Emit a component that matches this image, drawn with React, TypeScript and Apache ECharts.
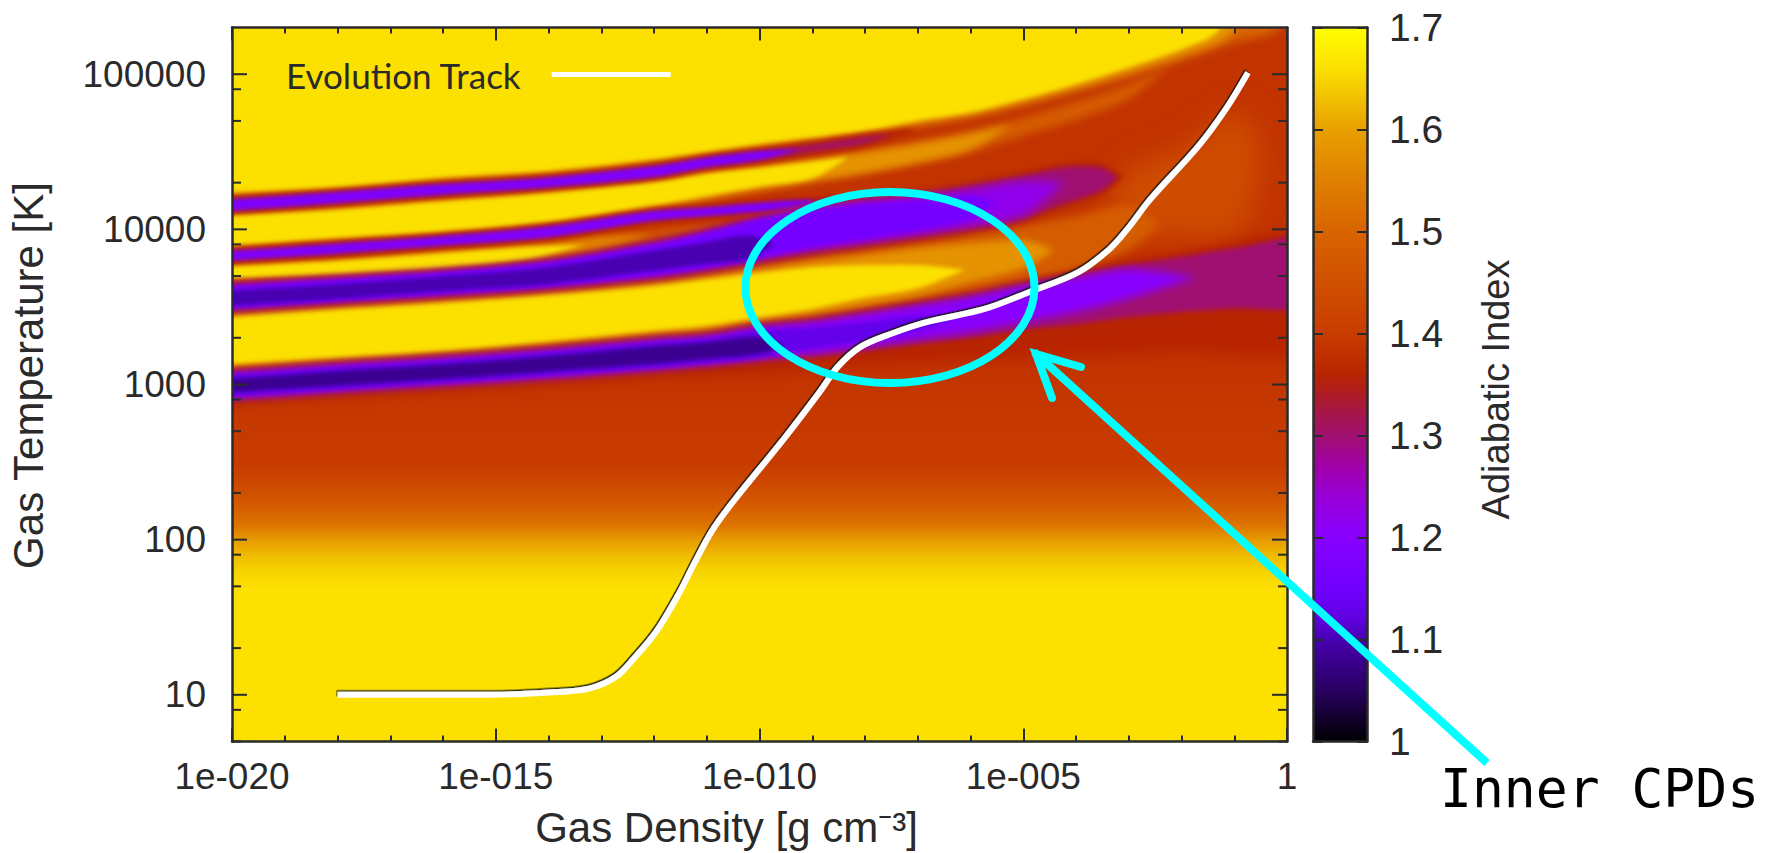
import React, { useEffect, useRef } from "react";
import * as echarts from "echarts";

// Axis values
const densityExponentTicks = [-20, -15, -10, -5, 0];
const temperatureMajorTicks = [10, 100, 1000, 10000, 100000];
const temperatureMinorTicks = [5, 8, 20, 50, 80, 200, 500, 800, 2000, 5000, 8000, 20000, 50000, 80000];

// Colour scale, adiabatic index -> colour
const gammaStops = [1.0, 1.05, 1.1, 1.12, 1.15, 1.2, 1.24, 1.27, 1.3, 1.33, 1.36, 1.4, 1.45, 1.5, 1.55, 1.6, 1.63, 1.66, 1.7];
const gammaColors = ["#000000", "#280060", "#4800b0", "#6000e0", "#7000ff", "#8800ff", "#9800d8", "#a000a8", "#a01070", "#a81838", "#b82400", "#c83c00", "#d05000", "#d86400", "#e08000", "#e8a000", "#f0c000", "#fbe000", "#ffff00"];

// Cold end of the map: [log10 T, index]
const coldProfileLogT = [5.31, 3.2, 2.48, 2.26, 2.09, 2.0, 1.9, 1.79, 1.68, 0.69];
const coldProfileGamma = [1.385, 1.385, 1.4, 1.46, 1.53, 1.59, 1.625, 1.65, 1.66, 1.66];

// Contours of the index: [log10 density, upper log10 T, lower log10 T]
const warmPatch144 = [[-3.4, 4.131, 4.131], [-3, 4.389, 3.981], [-2, 4.518, 3.96], [-1, 4.754, 3.96], [-0.7, 4.7, 4.1], [-0.5, 4.5, 4.4]];
const haloD136 = [[-20, 3.09, 2.886], [-16, 3.183, 2.961], [-12, 3.3, 3.047], [-10, 3.386, 3.069], [-8, 3.472, 3.122], [-6, 3.58, 3.155], [-4, 3.719, 3.176], [-2, 3.837, 3.208], [0.5, 3.949, 3.23]];
const topRegion150 = [[-20, 5.5, 4.206], [-18, 5.5, 4.243], [-16, 5.5, 4.303], [-14, 5.5, 4.346], [-12, 5.5, 4.421], [-10, 5.5, 4.518], [-9, 5.5, 4.56], [-8, 5.5, 4.603], [-7, 5.5, 4.663], [-6, 5.5, 4.721], [-5, 5.5, 4.797], [-4, 5.5, 4.887], [-3, 5.5, 4.979], [-2, 5.5, 5.086], [-1, 5.5, 5.204], [-0.2, 5.5, 5.28], [0.1, 5.5, 5.5]];
const topRegion158 = [[-20, 5.5, 4.222], [-18, 5.5, 4.257], [-16, 5.5, 4.319], [-14, 5.5, 4.362], [-12, 5.5, 4.437], [-10, 5.5, 4.534], [-9, 5.5, 4.577], [-8, 5.5, 4.62], [-7, 5.5, 4.682], [-6, 5.5, 4.738], [-5, 5.5, 4.82], [-4, 5.5, 4.91], [-3, 5.5, 5.01], [-2, 5.5, 5.12], [-1.1, 5.5, 5.25], [-0.7, 5.5, 5.5]];
const topRegion165 = [[-20, 5.5, 4.238], [-18, 5.5, 4.271], [-16, 5.5, 4.335], [-14, 5.5, 4.378], [-12, 5.5, 4.453], [-10, 5.5, 4.55], [-9, 5.5, 4.593], [-8, 5.5, 4.636], [-7, 5.5, 4.7], [-6, 5.5, 4.754], [-5, 5.5, 4.84], [-4, 5.5, 4.936], [-3, 5.5, 5.043], [-2, 5.5, 5.161], [-1.3, 5.5, 5.28], [-1.2, 5.5, 5.5]];
const streakAB148 = [[-20, 4.11, 3.878], [-18, 4.148, 3.921], [-16, 4.202, 3.964], [-14, 4.26, 4.024], [-12, 4.324, 4.12], [-11, 4.378, 4.185], [-10, 4.421, 4.243], [-9, 4.464, 4.303], [-8, 4.513, 4.357], [-7, 4.571, 4.421], [-6, 4.636, 4.496], [-5, 4.721, 4.603], [-4, 4.822, 4.706], [-3, 4.936, 4.84], [-2.2, 5.054, 5.054]];
const streakAB158 = [[-20, 4.095, 3.889], [-18, 4.135, 3.935], [-16, 4.189, 3.978], [-14, 4.243, 4.038], [-12, 4.314, 4.135], [-11, 4.367, 4.2], [-10, 4.406, 4.26], [-9, 4.449, 4.314], [-8, 4.496, 4.367], [-7, 4.55, 4.432], [-6, 4.614, 4.518], [-5.2, 4.678, 4.678]];
const streakAB165 = [[-20, 4.088, 3.895], [-18, 4.127, 3.942], [-16, 4.181, 3.985], [-14, 4.234, 4.045], [-12, 4.303, 4.153], [-11, 4.357, 4.217], [-10, 4.395, 4.277], [-9, 4.436, 4.329], [-8.3, 4.464, 4.464]];
const wedgeBC145 = [[-20, 3.777, 3.67], [-18, 3.816, 3.691], [-16, 3.865, 3.732], [-14, 3.921, 3.805], [-12, 4.003, 3.921], [-11, 4.035, 3.966], [-10.2, 4.028, 4.028]];
const wedgeBC155 = [[-20, 3.771, 3.676], [-18, 3.809, 3.698], [-16, 3.859, 3.738], [-14, 3.912, 3.814], [-13, 3.955, 3.874], [-12, 3.966, 3.966]];
const wedgeBC165 = [[-20, 3.762, 3.685], [-18, 3.798, 3.706], [-16, 3.848, 3.751], [-14.5, 3.884, 3.799], [-13.3, 3.9, 3.9]];
const bandCD148 = [[-20, 3.466, 3.101], [-18, 3.513, 3.144], [-16, 3.556, 3.187], [-14, 3.603, 3.247], [-12, 3.668, 3.311], [-11, 3.711, 3.337], [-10, 3.762, 3.391], [-9, 3.816, 3.434], [-8, 3.859, 3.487], [-7, 3.906, 3.547], [-6, 3.966, 3.605], [-5, 4.024, 3.67], [-4, 4.088, 3.745], [-3, 4.153, 3.863], [-2.4, 4.035, 4.035]];
const bandCD158 = [[-20, 3.453, 3.114], [-18, 3.5, 3.157], [-16, 3.543, 3.2], [-14, 3.59, 3.26], [-12, 3.653, 3.326], [-11, 3.696, 3.354], [-10, 3.745, 3.408], [-9, 3.794, 3.455], [-8, 3.837, 3.513], [-7, 3.88, 3.573], [-6, 3.91, 3.66], [-5, 3.93, 3.75], [-4.4, 3.87, 3.87]];
const bandCD165 = [[-20, 3.434, 3.133], [-18, 3.481, 3.176], [-16, 3.524, 3.219], [-14, 3.573, 3.279], [-12, 3.633, 3.348], [-11, 3.676, 3.38], [-10, 3.719, 3.434], [-9, 3.756, 3.487], [-8, 3.77, 3.56], [-7, 3.77, 3.62], [-6.1, 3.74, 3.74]];
const stripeA130 = [[-20, 4.202, 4.114], [-18, 4.249, 4.163], [-16, 4.299, 4.217], [-14, 4.342, 4.264], [-12, 4.415, 4.331], [-11, 4.47, 4.393], [-10, 4.513, 4.436], [-9, 4.556, 4.49], [-8, 4.608, 4.543], [-7.1, 4.636, 4.636]];
const stripeA118 = [[-20, 4.191, 4.123], [-18, 4.239, 4.172], [-16, 4.29, 4.226], [-14, 4.333, 4.273], [-12, 4.406, 4.339], [-11, 4.462, 4.402], [-10, 4.503, 4.449], [-9.2, 4.518, 4.518]];
const stripeB130 = [[-20, 3.87, 3.792], [-18, 3.917, 3.837], [-16, 3.964, 3.889], [-14, 4.028, 3.942], [-12, 4.127, 4.05], [-11, 4.148, 4.08], [-10, 4.178, 4.105], [-9, 4.196, 4.12], [-8.5, 4.2, 4.13]];
const stripeB118 = [[-20, 3.859, 3.801], [-18, 3.906, 3.846], [-16, 3.955, 3.897], [-14, 4.017, 3.951], [-12, 4.116, 4.058], [-11, 4.14, 4.088], [-10, 4.17, 4.114], [-9, 4.185, 4.131]];
const stripeC130 = [[-20, 3.653, 3.477], [-18, 3.696, 3.524], [-16, 3.738, 3.567], [-14, 3.803, 3.616], [-12, 3.921, 3.685], [-11, 3.998, 3.734], [-10, 4.084, 3.792], [-9, 4.153, 3.848], [-8, 4.2, 3.895], [-7, 4.234, 3.942], [-6, 4.292, 3.992], [-5, 4.357, 4.056], [-4.3, 4.41, 4.142], [-3.5, 4.41, 4.238], [-3.15, 4.335, 4.335]];
const stripeC122 = [[-20, 3.64, 3.487], [-18, 3.683, 3.535], [-16, 3.728, 3.578], [-14, 3.792, 3.627], [-12, 3.91, 3.696], [-11, 3.987, 3.745], [-10, 4.073, 3.803], [-9, 4.14, 3.863], [-8, 4.185, 3.912], [-7, 4.213, 3.964], [-6, 4.26, 4.02], [-5, 4.314, 4.088], [-4.2, 4.303, 4.303]];
const stripeC116 = [[-20, 3.631, 3.494], [-18, 3.674, 3.541], [-16, 3.719, 3.584], [-14, 3.784, 3.635], [-12, 3.9, 3.706], [-11, 3.977, 3.756], [-10, 4.063, 3.816], [-9, 4.12, 3.884], [-8, 4.163, 3.938], [-7, 4.185, 3.992], [-6, 4.217, 4.067], [-5.5, 4.174, 4.174]];
const stripeC110 = [[-20, 3.605, 3.509], [-18, 3.648, 3.552], [-16, 3.698, 3.603], [-14, 3.756, 3.648], [-12, 3.863, 3.734], [-11, 3.917, 3.777], [-10.2, 3.96, 3.809], [-9.7, 3.906, 3.906]];
const stripeD130 = [[-20, 3.09, 2.897], [-18, 3.14, 2.946], [-16, 3.183, 2.989], [-14, 3.236, 3.032], [-12, 3.3, 3.086], [-11, 3.326, 3.112], [-10, 3.386, 3.148], [-9, 3.419, 3.172], [-8, 3.472, 3.213], [-7, 3.526, 3.255], [-6, 3.58, 3.29], [-5, 3.655, 3.341], [-4, 3.719, 3.376], [-3, 3.784, 3.423], [-2, 3.837, 3.455], [-1, 3.891, 3.477], [0.5, 3.949, 3.504]];
const stripeD120 = [[-20, 3.079, 2.908], [-18, 3.129, 2.955], [-16, 3.172, 2.998], [-14, 3.225, 3.043], [-12, 3.29, 3.097], [-11, 3.316, 3.127], [-10, 3.373, 3.165], [-9, 3.408, 3.198], [-8, 3.459, 3.24], [-7, 3.513, 3.29], [-6, 3.569, 3.337], [-5, 3.638, 3.401], [-4, 3.691, 3.466], [-3, 3.745, 3.552], [-1.7, 3.691, 3.691]];
const stripeD113 = [[-20, 3.058, 2.929], [-18, 3.107, 2.972], [-16, 3.15, 3.015], [-14, 3.204, 3.062], [-12, 3.268, 3.112], [-11, 3.294, 3.144], [-10, 3.348, 3.176], [-9, 3.369, 3.23], [-8, 3.401, 3.283], [-7, 3.444, 3.348], [-6.3, 3.423, 3.423]];
const stripeD108 = [[-20, 3.036, 2.951], [-18, 3.086, 2.994], [-16, 3.129, 3.036], [-14, 3.182, 3.084], [-12, 3.247, 3.133], [-11, 3.273, 3.165], [-10, 3.305, 3.198], [-9.5, 3.251, 3.251]];

const contourLayers = [
  { gamma: 1.44, edge: warmPatch144 }, { gamma: 1.36, edge: haloD136 },
  { gamma: 1.5, edge: topRegion150 }, { gamma: 1.58, edge: topRegion158 }, { gamma: 1.66, edge: topRegion165 },
  { gamma: 1.48, edge: streakAB148 }, { gamma: 1.58, edge: streakAB158 }, { gamma: 1.66, edge: streakAB165 },
  { gamma: 1.45, edge: wedgeBC145 }, { gamma: 1.55, edge: wedgeBC155 }, { gamma: 1.66, edge: wedgeBC165 },
  { gamma: 1.48, edge: bandCD148 }, { gamma: 1.58, edge: bandCD158 }, { gamma: 1.66, edge: bandCD165 },
  { gamma: 1.3, edge: stripeA130 }, { gamma: 1.18, edge: stripeA118 },
  { gamma: 1.3, edge: stripeB130 }, { gamma: 1.18, edge: stripeB118 },
  { gamma: 1.3, edge: stripeC130 }, { gamma: 1.22, edge: stripeC122 }, { gamma: 1.16, edge: stripeC116 }, { gamma: 1.1, edge: stripeC110 },
  { gamma: 1.3, edge: stripeD130 }, { gamma: 1.2, edge: stripeD120 }, { gamma: 1.13, edge: stripeD113 }, { gamma: 1.08, edge: stripeD108 },
];

// Softness of each contour level on screen, the source image is a blurred photo
const softnessGamma = [1.44, 1.36, 1.3, 1.22, 1.2, 1.5, 1.48, 1.58, 1.45, 1.55];
const softnessPx = [14, 7, 2.5, 5, 4, 5, 4, 3.5, 3, 3];

// Evolution track
const trackLogDensity = [-18, -15.09, -13.99, -13.23, -12.72, -12.38, -11.96, -11.53, -11.23, -10.89, -10.47, -9.54, -8.86, -8.52, -8.09, -7.5, -6.83, -5.73, -4.89, -3.95, -3.36, -3.02, -2.6, -1.67, -1.16, -0.74];
const trackLogTemperature = [1.0, 1.0, 1.015, 1.04, 1.116, 1.234, 1.406, 1.65, 1.85, 2.062, 2.257, 2.648, 2.951, 3.112, 3.241, 3.327, 3.402, 3.487, 3.595, 3.724, 3.874, 4.003, 4.19, 4.54, 4.775, 5.01];

const colorbarTicks = [1, 1.1, 1.2, 1.3, 1.4, 1.5, 1.6, 1.7];

const hexToRgb = (h: string) => [1, 3, 5].map((i) => parseInt(h.slice(i, i + 2), 16));
function gammaColor(g: number) {
  let i = 0;
  while (i < gammaStops.length - 2 && gammaStops[i + 1] < g) i++;
  const t = Math.min(1, Math.max(0, (g - gammaStops[i]) / (gammaStops[i + 1] - gammaStops[i])));
  const a = hexToRgb(gammaColors[i]);
  const b = hexToRgb(gammaColors[i + 1]);
  return `rgb(${a.map((v, k) => Math.round(v + (b[k] - v) * t)).join(",")})`;
}

const FONT = "'Liberation Sans', Arial, sans-serif";
const INK = "#2a2a2a";
const MIN_T = 5;
const MAX_T = 200000;

function renderField(params: any, api: any) {
  const i = params.dataIndex;
  if (i === 0) {
    const a = api.coord([-20, MAX_T]);
    const b = api.coord([0, MIN_T]);
    const top = Math.log10(MAX_T);
    const span = top - Math.log10(MIN_T);
    const stops = coldProfileLogT.map((lt, k) => ({
      offset: Math.min(1, Math.max(0, (top - lt) / span)),
      color: gammaColor(coldProfileGamma[k]),
    }));
    return {
      type: "rect",
      shape: { x: a[0], y: a[1], width: b[0] - a[0], height: b[1] - a[1] },
      style: { fill: new echarts.graphic.LinearGradient(0, 0, 0, 1, stops) },
    };
  }
  const layer = contourLayers[i - 1];
  const e = layer.edge;
  const first = e[0];
  const isLeftOpen = first[0] <= -20;
  const rows = isLeftOpen ? [[first[0] - 1.2, first[1] - 0.024, first[2] - 0.024], ...e] : e;
  const upper = rows.map((r) => api.coord([r[0], Math.pow(10, r[1])]));
  const lower = rows
    .slice()
    .reverse()
    .map((r) => api.coord([r[0], Math.pow(10, r[2])]));
  const isStripeRim = layer.gamma === 1.3;
  return {
    type: "polygon",
    shape: { points: upper.concat(lower), smooth: 0.3 },
    style: isStripeRim
      ? { fill: gammaColor(layer.gamma), stroke: gammaColor(1.36), lineWidth: 4 }
      : { fill: gammaColor(layer.gamma) },
  };
}

function renderTemperatureTick(params: any, api: any) {
  const major = api.value(2) === 1;
  const y = api.coord([-20, api.value(1)])[1];
  const x0 = api.coord([-20, 100])[0];
  const x1 = api.coord([0, 100])[0];
  const len = major ? 15 : 9;
  return {
    type: "group",
    children: [
      { type: "line", shape: { x1: x0, y1: y, x2: x0 + len, y2: y }, style: { stroke: INK, lineWidth: 2 } },
      { type: "line", shape: { x1: x1, y1: y, x2: x1 - len, y2: y }, style: { stroke: INK, lineWidth: 2 } },
    ],
  };
}

function renderColorbar(_params: any, api: any) {
  const a = api.coord([0, 1.7]);
  const b = api.coord([1, 1]);
  const stops = gammaStops.map((g, k) => ({ offset: (1.7 - g) / 0.7, color: gammaColors[k] })).reverse();
  return {
    type: "rect",
    shape: { x: a[0], y: a[1], width: b[0] - a[0], height: b[1] - a[1] },
    style: { fill: new echarts.graphic.LinearGradient(0, 0, 0, 1, stops) },
  };
}

const frame = { show: true, onZero: false, lineStyle: { color: INK, width: 2.5 } };

export default function App() {
  const ref = useRef<HTMLDivElement>(null);
  useEffect(() => {
    document.body.style.margin = "0";
    const chart = echarts.init(ref.current!, undefined, { renderer: "svg" });
    const cyan = "#00ffff";
    chart.setOption({
      animation: false,
      backgroundColor: "#ffffff",
      textStyle: { fontFamily: FONT },
      grid: [
        { left: 232, top: 27.5, width: 1055, height: 714, outerBoundsMode: "none" },
        { left: 1313, top: 27.5, width: 54, height: 714, outerBoundsMode: "none" },
      ],
      legend: {
        left: 280,
        top: 52,
        align: "right",
        itemWidth: 119,
        itemHeight: 5,
        data: [{ name: "Evolution Track", icon: "rect", itemStyle: { color: "#ffffff" } }],
        textStyle: { fontFamily: "Lato, sans-serif", fontSize: 35, color: INK, padding: [0, 26, 0, 0] },
      },
      xAxis: [
        {
          type: "value", gridIndex: 0, position: "bottom", min: -20, max: 0, interval: 5, z: 10,
          axisLine: frame, splitLine: { show: false },
          axisTick: { show: true, inside: true, length: 13, lineStyle: { color: INK, width: 2 } },
          minorTick: { show: true, splitNumber: 5, length: 6, lineStyle: { color: INK, width: 2 } },
          axisLabel: {
            margin: 16, fontSize: 37, color: INK, fontFamily: FONT, showMinLabel: true, showMaxLabel: true,
            customValues: densityExponentTicks,
            formatter: (v: number) => (v === 0 ? "1" : `1e-${String(Math.abs(v)).padStart(3, "0")}`),
          },
          name: "Gas Density [g cm⁻³]", nameLocation: "middle", nameGap: 65,
          nameTextStyle: { fontSize: 42, color: INK, fontFamily: FONT, padding: [0, 66, 0, 0] },
        },
        {
          type: "value", gridIndex: 0, position: "top", min: -20, max: 0, interval: 5, z: 10,
          axisLine: frame, splitLine: { show: false }, axisLabel: { show: false },
          axisTick: { show: true, inside: true, length: 13, lineStyle: { color: INK, width: 2 } },
          minorTick: { show: true, splitNumber: 5, length: 6, lineStyle: { color: INK, width: 2 } },
        },
        { type: "value", gridIndex: 1, position: "bottom", min: 0, max: 1, z: 10, axisLine: frame, splitLine: { show: false }, axisTick: { show: false }, axisLabel: { show: false } },
        { type: "value", gridIndex: 1, position: "top", min: 0, max: 1, z: 10, axisLine: frame, splitLine: { show: false }, axisTick: { show: false }, axisLabel: { show: false } },
      ],
      yAxis: [
        {
          type: "log", logBase: 10, gridIndex: 0, position: "left", min: MIN_T, max: MAX_T, z: 10,
          axisLine: frame, splitLine: { show: false }, axisTick: { show: false }, minorTick: { show: false },
          axisLabel: {
            margin: 26, fontSize: 37, color: INK, fontFamily: FONT,
            formatter: (v: number) => (temperatureMajorTicks.some((t) => Math.abs(t - v) < t * 0.01) ? String(Math.round(v)) : ""),
          },
          name: "Gas Temperature [K]", nameLocation: "middle", nameGap: 183, nameRotate: 90,
          nameTextStyle: { fontSize: 42, color: INK, fontFamily: FONT, padding: [0, 0, 0, 18] },
        },
        {
          type: "log", logBase: 10, gridIndex: 0, position: "right", min: MIN_T, max: MAX_T, z: 10,
          axisLine: frame, splitLine: { show: false }, axisTick: { show: false }, axisLabel: { show: false },
        },
        {
          type: "value", gridIndex: 1, position: "left", min: 1, max: 1.7, interval: 0.1, z: 10,
          axisLine: frame, splitLine: { show: false }, axisLabel: { show: false },
          axisTick: { show: true, inside: true, length: 10, lineStyle: { color: INK, width: 2 } },
        },
        {
          type: "value", gridIndex: 1, position: "right", min: 1, max: 1.7, interval: 0.1, z: 10,
          axisLine: frame, splitLine: { show: false },
          axisTick: { show: true, inside: true, length: 10, lineStyle: { color: INK, width: 2 } },
          axisLabel: {
            margin: 22, fontSize: 39, color: INK, fontFamily: FONT,
            customValues: colorbarTicks,
            formatter: (v: number) => String(Number(v.toFixed(1))),
          },
          name: "Adiabatic Index", nameLocation: "middle", nameGap: 110, nameRotate: 90,
          nameTextStyle: { fontSize: 38, color: INK, fontFamily: "'Liberation Sans Narrow', 'Liberation Sans', sans-serif", padding: [0, 10, 0, 0] },
        },
      ],
      series: [
        {
          type: "custom", name: "Adiabatic index field", xAxisIndex: 0, yAxisIndex: 0, clip: true, z: 2, silent: true,
          renderItem: renderField,
          encode: { x: 0, y: 1 },
          data: [-1, ...contourLayers.map((_, i) => i)].map((i) => [-10, 100, i]),
        },
        {
          type: "custom", name: "Temperature ticks", xAxisIndex: 0, yAxisIndex: 0, clip: false, z: 5, silent: true,
          renderItem: renderTemperatureTick,
          encode: { x: 0, y: 1 },
          data: [...temperatureMajorTicks.map((t) => [-20, t, 1]), ...temperatureMinorTicks.map((t) => [-20, t, 0])],
        },
        {
          type: "line", name: "Evolution Track", xAxisIndex: 0, yAxisIndex: 0, z: 6, smooth: 0.35, showSymbol: false, symbol: "none",
          color: "#ffffff",
          lineStyle: { color: "#ffffff", width: 6, shadowColor: "rgba(20,20,20,0.9)", shadowBlur: 1, shadowOffsetX: -1, shadowOffsetY: -1.5 },
          data: trackLogDensity.map((x, i) => [x, Math.pow(10, trackLogTemperature[i])]),
        },
        {
          type: "custom", name: "Colour scale", xAxisIndex: 2, yAxisIndex: 2, z: 2, silent: true,
          renderItem: renderColorbar,
          encode: { x: 0, y: 1 },
          data: [[0, 1]],
        },
      ],
      graphic: [
        { type: "ellipse", z: 100, shape: { cx: 890, cy: 287.5, rx: 144.5, ry: 95.5 }, style: { fill: "transparent", stroke: cyan, lineWidth: 8 } },
        { type: "line", z: 100, shape: { x1: 1034, y1: 352, x2: 1487, y2: 763 }, style: { stroke: cyan, lineWidth: 8 } },
        { type: "polyline", z: 100, shape: { points: [[1081, 367], [1036, 354], [1052, 398]] }, style: { fill: "transparent", stroke: cyan, lineWidth: 8, lineCap: "round", lineJoin: "miter" } },
        { type: "text", z: 100, style: { text: "Inner CPDs", x: 1440, y: 788, fontFamily: "'DejaVu Sans Mono', monospace", fontSize: 53, fill: "#000000", verticalAlign: "middle" } },
      ],
    });
    // Soften the contour polygons the way the blurred source image is soft.
    const softByFill = new Map<string, number>();
    contourLayers.forEach((l) => {
      const k = softnessGamma.indexOf(l.gamma);
      softByFill.set(gammaColor(l.gamma).replace(/\s/g, ""), k >= 0 ? softnessPx[k] : 2.2);
    });
    ref.current!.querySelectorAll("svg path").forEach((p: any) => {
      const fill = (p.getAttribute("fill") || "").replace(/\s/g, "");
      const soft = softByFill.get(fill);
      if (soft !== undefined) p.style.filter = `blur(${soft}px)`;
    });
    return () => chart.dispose();
  }, []);
  return <div ref={ref} style={{ width: 1781, height: 853, background: "#fff" }} />;
}
